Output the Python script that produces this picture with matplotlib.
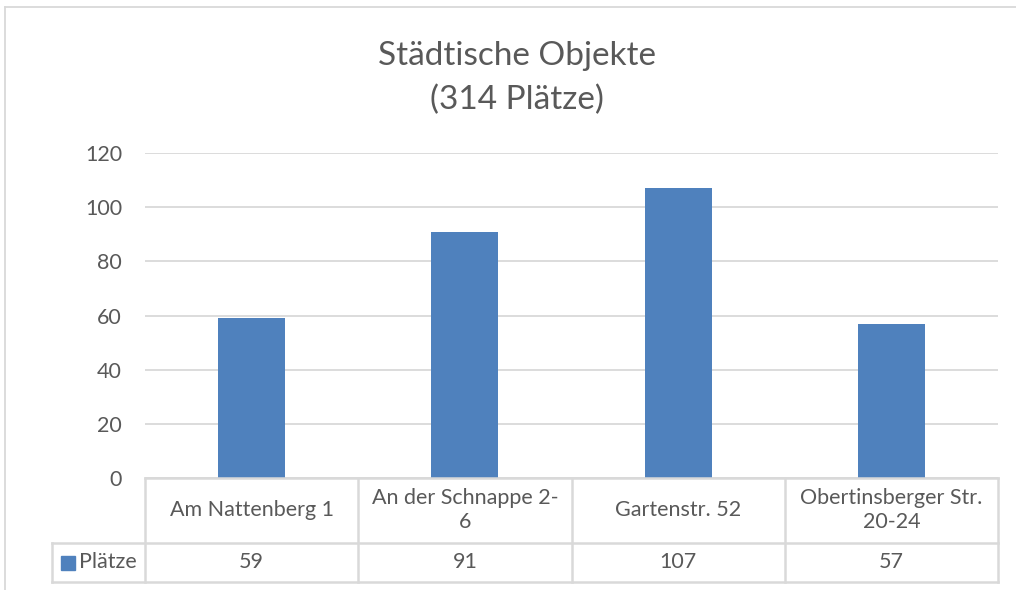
import matplotlib.pyplot as plt
from matplotlib.lines import Line2D
from matplotlib.patches import Rectangle
import matplotlib.transforms as mtransforms

plt.rcParams['font.family'] = ['Lato', 'DejaVu Sans']

# Data
categories = ['Am Nattenberg 1', 'An der Schnappe 2-\n6', 'Gartenstr. 52', 'Obertinsberger Str.\n20-24']
plaetze = [59, 91, 107, 57]
series_name = 'Plätze'
yticks = [0, 20, 40, 60, 80, 100, 120]

text_col = '#595959'
grid_col = '#d9d9d9'
bar_col = '#4f81bd'
fs = 15.5

W, H = 1016, 590
fig = plt.figure(figsize=(W / 100, H / 100), dpi=100)
ax = fig.add_axes([145 / W, 1 - 478 / H, (998 - 145) / W, (478 - 153) / H])

x = list(range(len(categories)))
ax.bar(x, plaetze, width=0.315, color=bar_col, zorder=3)
ax.set_xlim(-0.5, len(categories) - 0.5)
ax.set_ylim(0, 120)
ax.set_yticks(yticks)
ax.set_yticklabels([str(t) for t in yticks], fontsize=fs, color=text_col)
ax.tick_params(axis='y', length=0, pad=16.5)
ax.set_xticks([])
ax.grid(axis='y', color=grid_col, linewidth=1.3, zorder=0)
for s in ax.spines.values():
    s.set_visible(False)

# data table below the axes (x in data units, y in pixels below axis)
px = 1 / (478 - 153)  # one pixel in axes fraction
trans = mtransforms.blended_transform_factory(ax.transData, ax.transAxes)
row1 = -65 * px
row2 = -104 * px
lw = 1.8
x0, x1 = -0.5, len(categories) - 0.5
cw = 213.25  # pixels per category
legend_left = -0.5 - (145 - 52) / cw

def hline(xa, xb, y):
    ax.add_line(Line2D([xa, xb], [y, y], transform=trans, color=grid_col, lw=lw, clip_on=False, zorder=4))

def vline(xv, ya, yb):
    ax.add_line(Line2D([xv, xv], [ya, yb], transform=trans, color=grid_col, lw=lw, clip_on=False, zorder=4))

hline(x0, x1, 0)
hline(legend_left, x1, row1)
hline(legend_left, x1, row2)
vline(legend_left, row1, row2)
for i in range(len(categories) + 1):
    vline(i - 0.5, 0, row2)

for i, (c, v) in enumerate(zip(categories, plaetze)):
    ax.text(i, row1 / 2, c, transform=trans, ha='center', va='center',
            fontsize=fs, color=text_col, linespacing=1.25, clip_on=False)
    ax.text(i, (row1 + row2) / 2, str(v), transform=trans, ha='center', va='center',
            fontsize=fs, color=text_col, clip_on=False)

# legend key in the table
ax.add_patch(Rectangle((legend_left + 9 / cw, (row1 + row2) / 2 - 7 * px), 14 / cw, 14 * px,
                       transform=trans, color=bar_col, clip_on=False, zorder=5))
ax.text(legend_left + 27 / cw, (row1 + row2) / 2, series_name, transform=trans, ha='left', va='center',
        fontsize=fs, color=text_col, clip_on=False)

# title
fig.text(517 / W, 1 - 78 / H, 'Städtische Objekte\n(314 Plätze)', ha='center', va='center',
         fontsize=24, color=text_col, linespacing=1.58)

# outer chart frame
fig.add_artist(Line2D([5 / W, 5 / W], [0, 1 - 7 / H], color=grid_col, lw=1.3))
fig.add_artist(Line2D([5 / W, 1], [1 - 7 / H, 1 - 7 / H], color=grid_col, lw=1.3))

fig.savefig('out.png', dpi=100)
